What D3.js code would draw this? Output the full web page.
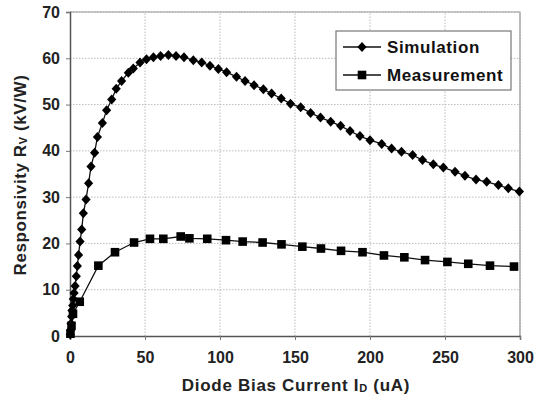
<!DOCTYPE html>
<html><head><meta charset="utf-8">
<script src="https://cdn.jsdelivr.net/npm/d3@7"></script>
<style>body{margin:0;background:#fff;} text{font-family:"Liberation Sans",Arial,sans-serif;font-weight:bold;}</style>
</head><body><div id="chart"></div>
<script>
const simX = [0.2,0.4,0.7,1.1,1.3,1.8,2.2,2.7,3.4,4.2,4.9,5.7,6.7,7.8,8.9,10.7,12.4,14.0,16.4,18.3,21.6,24.4,27.8,30.8,34.4,38.9,42.2,46.7,51,55.6,60.4,65.6,70.7,76,82.2,87.8,93.3,98.9,104.4,111,116.7,122.7,128.9,134.4,140.8,147,153.8,160.4,167,173.8,180.4,186.7,193.3,200,207.8,214.4,221,228.4,235,242.2,248.9,256.7,263.3,270.7,277.8,285.6,292.2,299.6];
const simY = [0.3,1.3,2.7,4.2,5.5,6.6,8.0,9.3,10.8,12.9,15.1,17.5,20.4,23.0,26.5,29.5,33.0,36.6,39.6,43.0,46.0,48.8,51.1,53.4,55.1,56.9,57.8,59.1,59.8,60.2,60.5,60.7,60.5,60.2,59.6,59.1,58.4,57.7,57.0,56.0,55.1,54.2,53.3,52.4,51.3,50.2,49.4,48.2,47.2,46.3,45.4,44.3,43.2,42.3,41.5,40.5,39.8,39.1,38.0,37.1,36.4,35.5,34.6,33.8,33.3,32.6,31.9,31.2];
const measX = [0.3,1.0,2.0,6.5,18.9,30,42.7,53.3,62.2,73.8,79.6,91.5,104,115.1,128.4,141,154.9,167.3,180.7,195,209.3,222.9,236.7,251.6,265.5,280,296];
const measY = [0.5,2.2,4.8,7.4,15.2,18.1,20.2,21.0,21.0,21.5,21.1,21.0,20.7,20.4,20.2,19.8,19.3,18.9,18.4,18.1,17.4,17.0,16.4,16.0,15.6,15.2,15.0];
const xTicks = [0,50,100,150,200,250,300];
const yTicks = [0,10,20,30,40,50,60,70];
const seriesNames = ["Simulation","Measurement"];

const W=547,H=402;
const m={left:70,right:27,top:12,bottom:66};
const svg=d3.select("#chart").append("svg").attr("width",W).attr("height",H);
const x=d3.scaleLinear().domain([0,300]).range([m.left,W-m.right]);
const y=d3.scaleLinear().domain([0,70]).range([H-m.bottom,m.top]);

// grid
svg.append("g").selectAll("line").data(xTicks.slice(1)).join("line")
  .attr("x1",d=>x(d)).attr("x2",d=>x(d)).attr("y1",y(0)).attr("y2",y(70))
  .attr("stroke","#bbb").attr("stroke-dasharray","1.5,1.5");
svg.append("g").selectAll("line").data(yTicks.slice(1)).join("line")
  .attr("x1",x(0)).attr("x2",x(300)).attr("y1",d=>y(d)).attr("y2",d=>y(d))
  .attr("stroke","#bbb").attr("stroke-dasharray","1.5,1.5");
// frame top/right
svg.append("path").attr("d",`M${x(0)},${y(70)}H${x(300)}V${y(0)}`).attr("fill","none").attr("stroke","#999").attr("stroke-width",1.2);

const xAxis=svg.append("g").attr("transform",`translate(0,${y(0)})`)
  .call(d3.axisBottom(x).tickValues(xTicks).tickSize(4).tickPadding(12));
const yAxis=svg.append("g").attr("transform",`translate(${x(0)},0)`)
  .call(d3.axisLeft(y).tickValues(yTicks).tickSize(4).tickPadding(6));
[xAxis,yAxis].forEach(a=>{
  a.select(".domain").attr("stroke","#555").attr("stroke-width",1.5);
  a.selectAll(".tick line").attr("stroke","#777");
  a.selectAll("text").attr("font-size",16).attr("fill","#222").attr("font-family","Liberation Sans, Arial").attr("font-weight","bold");
});

const line=d3.line().x(d=>x(d[0])).y(d=>y(d[1]));
const simData=simX.map((v,i)=>[v,simY[i]]);
const measData=measX.map((v,i)=>[v,measY[i]]);
svg.append("path").datum(simData).attr("d",line).attr("fill","none").attr("stroke","#111").attr("stroke-width",1.3);
svg.append("path").datum(measData).attr("d",line).attr("fill","none").attr("stroke","#111").attr("stroke-width",1.3);
const diamond="M0,-5L4.6,0L0,5L-4.6,0Z";
const square="M-4.3,-4.3H4.3V4.3H-4.3Z";
svg.append("g").selectAll("path").data(simData).join("path")
  .attr("transform",d=>`translate(${x(d[0])},${y(d[1])})`).attr("d",diamond).attr("fill","#000");
svg.append("g").selectAll("path").data(measData).join("path")
  .attr("transform",d=>`translate(${x(d[0])},${y(d[1])})`).attr("d",square).attr("fill","#000");

// legend
const lg=svg.append("g");
lg.append("rect").attr("x",336).attr("y",31).attr("width",175).attr("height",59).attr("fill","#fff").attr("stroke","#777").attr("stroke-width",1.2);
[0,1].forEach(i=>{
  const yy=47+i*28;
  lg.append("line").attr("x1",343).attr("x2",381).attr("y1",yy).attr("y2",yy).attr("stroke","#111").attr("stroke-width",1.3);
  lg.append("path").attr("transform",`translate(362,${yy})`).attr("d",i?square:diamond).attr("fill","#000");
  lg.append("text").attr("x",387).attr("y",yy+6).attr("font-size",17).attr("letter-spacing",0.6).attr("fill","#111").text(seriesNames[i]);
});

// axis titles
const xt=svg.append("text").attr("x",296).attr("y",391).attr("text-anchor","middle").attr("font-size",17).attr("letter-spacing",0.7).attr("fill","#222");
xt.append("tspan").text("Diode Bias Current I");
xt.append("tspan").attr("font-size",11).attr("dy",1).text("D");
xt.append("tspan").attr("dy",-1).text(" (uA)");
const yt=svg.append("text").attr("transform",`translate(26,175) rotate(-90)`).attr("text-anchor","middle").attr("font-size",17).attr("letter-spacing",0.6).attr("fill","#222");
yt.append("tspan").text("Responsivity R");
yt.append("tspan").attr("font-size",11).attr("dy",1).text("V");
yt.append("tspan").attr("dy",-1).text(" (kV/W)");
</script></body></html>
